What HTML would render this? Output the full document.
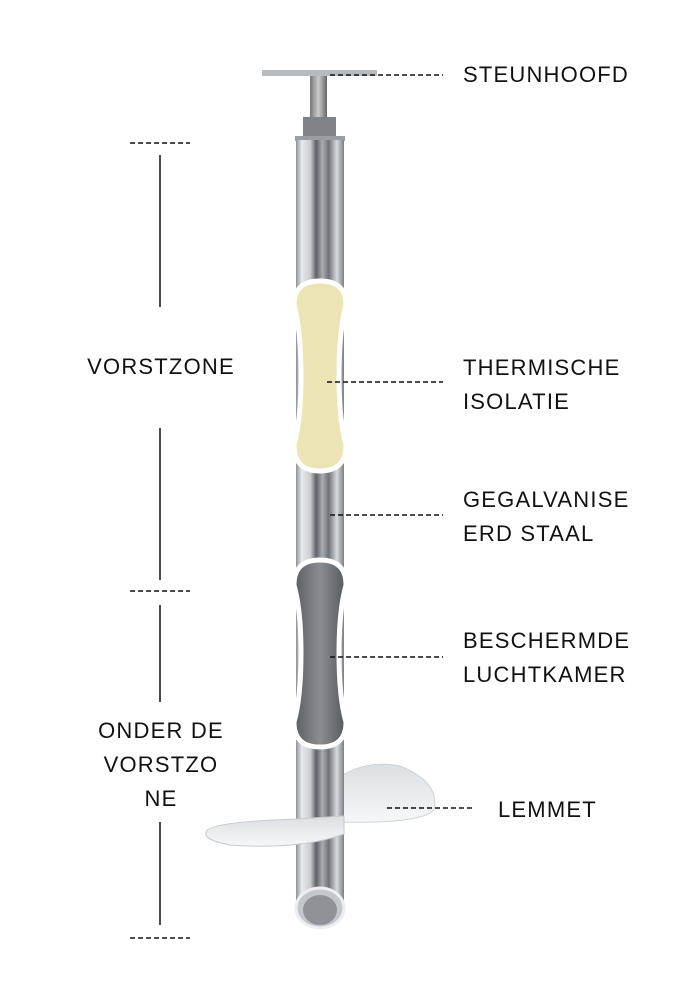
<!DOCTYPE html>
<html><head><meta charset="utf-8"><style>
html,body{margin:0;padding:0;background:#fff;width:700px;height:1000px;overflow:hidden}
svg text{font-family:"Liberation Sans",sans-serif;font-size:22px;fill:#111;letter-spacing:1.2px}
</style></head><body>
<svg width="700" height="1000" viewBox="0 0 700 1000" xmlns="http://www.w3.org/2000/svg">
<defs>
<linearGradient id="pipe" x1="0" x2="1">
<stop offset="0" stop-color="#8d9196"/><stop offset="0.12" stop-color="#e8eaec"/><stop offset="0.3" stop-color="#c9ccd0"/>
<stop offset="0.42" stop-color="#5d6168"/><stop offset="0.55" stop-color="#a9adb3"/><stop offset="0.68" stop-color="#6e737a"/>
<stop offset="0.85" stop-color="#d8dadd"/><stop offset="1" stop-color="#7c8086"/></linearGradient>
<linearGradient id="bolt" x1="0" x2="1"><stop offset="0" stop-color="#777"/><stop offset="0.5" stop-color="#ccc"/><stop offset="1" stop-color="#666"/></linearGradient>
<linearGradient id="blade" x1="0" x2="0" y1="0" y2="1"><stop offset="0" stop-color="#dcdfe2"/><stop offset="1" stop-color="#f6f7f8"/></linearGradient>
<linearGradient id="air" x1="0" x2="1"><stop offset="0" stop-color="#5a5d62"/><stop offset="0.5" stop-color="#8a8d92"/><stop offset="1" stop-color="#55585d"/></linearGradient>
</defs>
<rect x="262" y="70" width="115" height="6" fill="#b8bbbe"/>
<rect x="310" y="76" width="17" height="42" fill="url(#bolt)"/>
<rect x="303" y="117" width="33" height="20" fill="#7f8388"/>
<rect x="295" y="136" width="50" height="5" fill="#9a9ea3"/>
<path d="M330 785 Q360 758 400 766 Q440 782 434 810 Q420 824 340 822 Z" fill="url(#blade)" stroke="#d0d3d6"/>
<rect x="296" y="140" width="48" height="775" fill="url(#pipe)"/>
<ellipse cx="320" cy="908" rx="24" ry="20" fill="#c3c6ca" stroke="#eee" stroke-width="3"/>
<ellipse cx="320" cy="910" rx="17" ry="15" fill="#8f9398"/>
<path d="M206 832 Q208 822 296 819 L344 816 L344 834 Q300 850 230 845 Q203 840 206 832 Z" fill="url(#blade)" stroke="#c8cbce"/>
<path d="M320 281 Q346 281 346 305 Q339 330 339 376 Q339 420 346 445 Q346 471 320 471 Q294 471 294 445 Q301 420 301 376 Q301 330 294 305 Q294 281 320 281 Z" fill="#ece4b4" stroke="#fff" stroke-width="5"/>
<path d="M320 560 Q346 560 346 585 Q339 610 339 653 Q339 698 346 722 Q346 747 320 747 Q294 747 294 722 Q301 698 301 653 Q301 610 294 585 Q294 560 320 560 Z" fill="url(#air)" stroke="#fff" stroke-width="5"/>
<g stroke="#111" stroke-width="1.5" stroke-dasharray="5 3" fill="none">
<line x1="330" y1="75" x2="443" y2="75"/>
<line x1="327" y1="382" x2="443" y2="382"/>
<line x1="330" y1="515" x2="443" y2="515"/>
<line x1="330" y1="657" x2="443" y2="657"/>
<line x1="387" y1="808" x2="475" y2="808"/>
<line x1="130" y1="143" x2="190" y2="143"/>
<line x1="130" y1="591" x2="190" y2="591"/>
<line x1="130" y1="938" x2="190" y2="938"/>
</g>
<g stroke="#111" stroke-width="1.5">
<line x1="160" y1="155" x2="160" y2="307"/>
<line x1="160" y1="428" x2="160" y2="580"/>
<line x1="160" y1="605" x2="160" y2="702"/>
<line x1="160" y1="822" x2="160" y2="925"/>
</g>
<text x="463" y="82">STEUNHOOFD</text>
<text x="463" y="375">THERMISCHE</text>
<text x="463" y="409">ISOLATIE</text>
<text x="463" y="507">GEGALVANISE</text>
<text x="463" y="541">ERD STAAL</text>
<text x="463" y="648">BESCHERMDE</text>
<text x="463" y="682">LUCHTKAMER</text>
<text x="498" y="817">LEMMET</text>
<text x="161" y="374" text-anchor="middle">VORSTZONE</text>
<text x="161" y="738" text-anchor="middle">ONDER DE</text>
<text x="161" y="772" text-anchor="middle">VORSTZO</text>
<text x="161" y="806" text-anchor="middle">NE</text>
</svg>
</body></html>
